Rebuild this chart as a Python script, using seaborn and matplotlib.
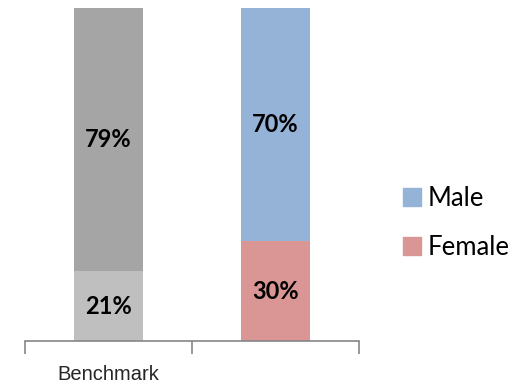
import matplotlib
matplotlib.use("Agg")
import matplotlib.pyplot as plt
import matplotlib.patches as mpatches
import seaborn as sb

groups = ["Benchmark", ""]
top_share = [0.79, 0.70]      # Male
bottom_share = [0.21, 0.30]   # Female
top_colors = ["#A5A5A5", "#95B3D7"]
bottom_colors = ["#BFBFBF", "#D99694"]
legend_labels = ["Male", "Female"]

sb.set_style("white")
plt.rcParams["font.family"] = ["Lato", "DejaVu Sans"]

fig = plt.figure(figsize=(5.23, 3.88), dpi=100)
ax = fig.add_axes([25 / 523, 47 / 388, 334 / 523, 333 / 388])

totals = [t + b for t, b in zip(top_share, bottom_share)]
sb.barplot(x=groups, y=totals, hue=groups, palette=top_colors, width=0.41,
           legend=False, saturation=1, linewidth=0, ax=ax)
sb.barplot(x=groups, y=bottom_share, hue=groups, palette=bottom_colors, width=0.41,
           legend=False, saturation=1, linewidth=0, ax=ax)

for i in range(len(groups)):
    ax.text(i, bottom_share[i] / 2, f"{bottom_share[i]:.0%}", ha="center", va="center",
            fontsize=17, fontweight="bold", color="black")
    ax.text(i, bottom_share[i] + top_share[i] / 2, f"{top_share[i]:.0%}", ha="center",
            va="center", fontsize=17, fontweight="bold", color="black")

ax.set_xlim(-0.5, 1.5)
ax.set_ylim(0, 1.0)
ax.set_yticks([])
ax.set_ylabel("")
for s in ["left", "right", "top"]:
    ax.spines[s].set_visible(False)
ax.spines["bottom"].set_color("#868686")
ax.spines["bottom"].set_linewidth(1.2)

ax.set_xticks([0, 1])
ax.set_xticklabels(groups, fontsize=14.5, family=["Liberation Sans"])
ax.tick_params(axis="x", which="major", length=0, pad=17)
ax.set_xticks([-0.5, 0.5, 1.5], minor=True)
ax.tick_params(axis="x", which="minor", bottom=True, length=9, width=1.2,
               color="#868686", direction="out")

handles = [mpatches.Patch(color=top_colors[1], label=legend_labels[0]),
           mpatches.Patch(color=bottom_colors[1], label=legend_labels[1])]
fig.legend(handles=handles, loc="center left", bbox_to_anchor=(380 / 523, 1 - 223 / 388),
           frameon=False, fontsize=18.5, handlelength=0.7, handleheight=0.7,
           handletextpad=0.25, labelspacing=0.95, labelcolor="black")

fig.savefig("out.png", dpi=100)
